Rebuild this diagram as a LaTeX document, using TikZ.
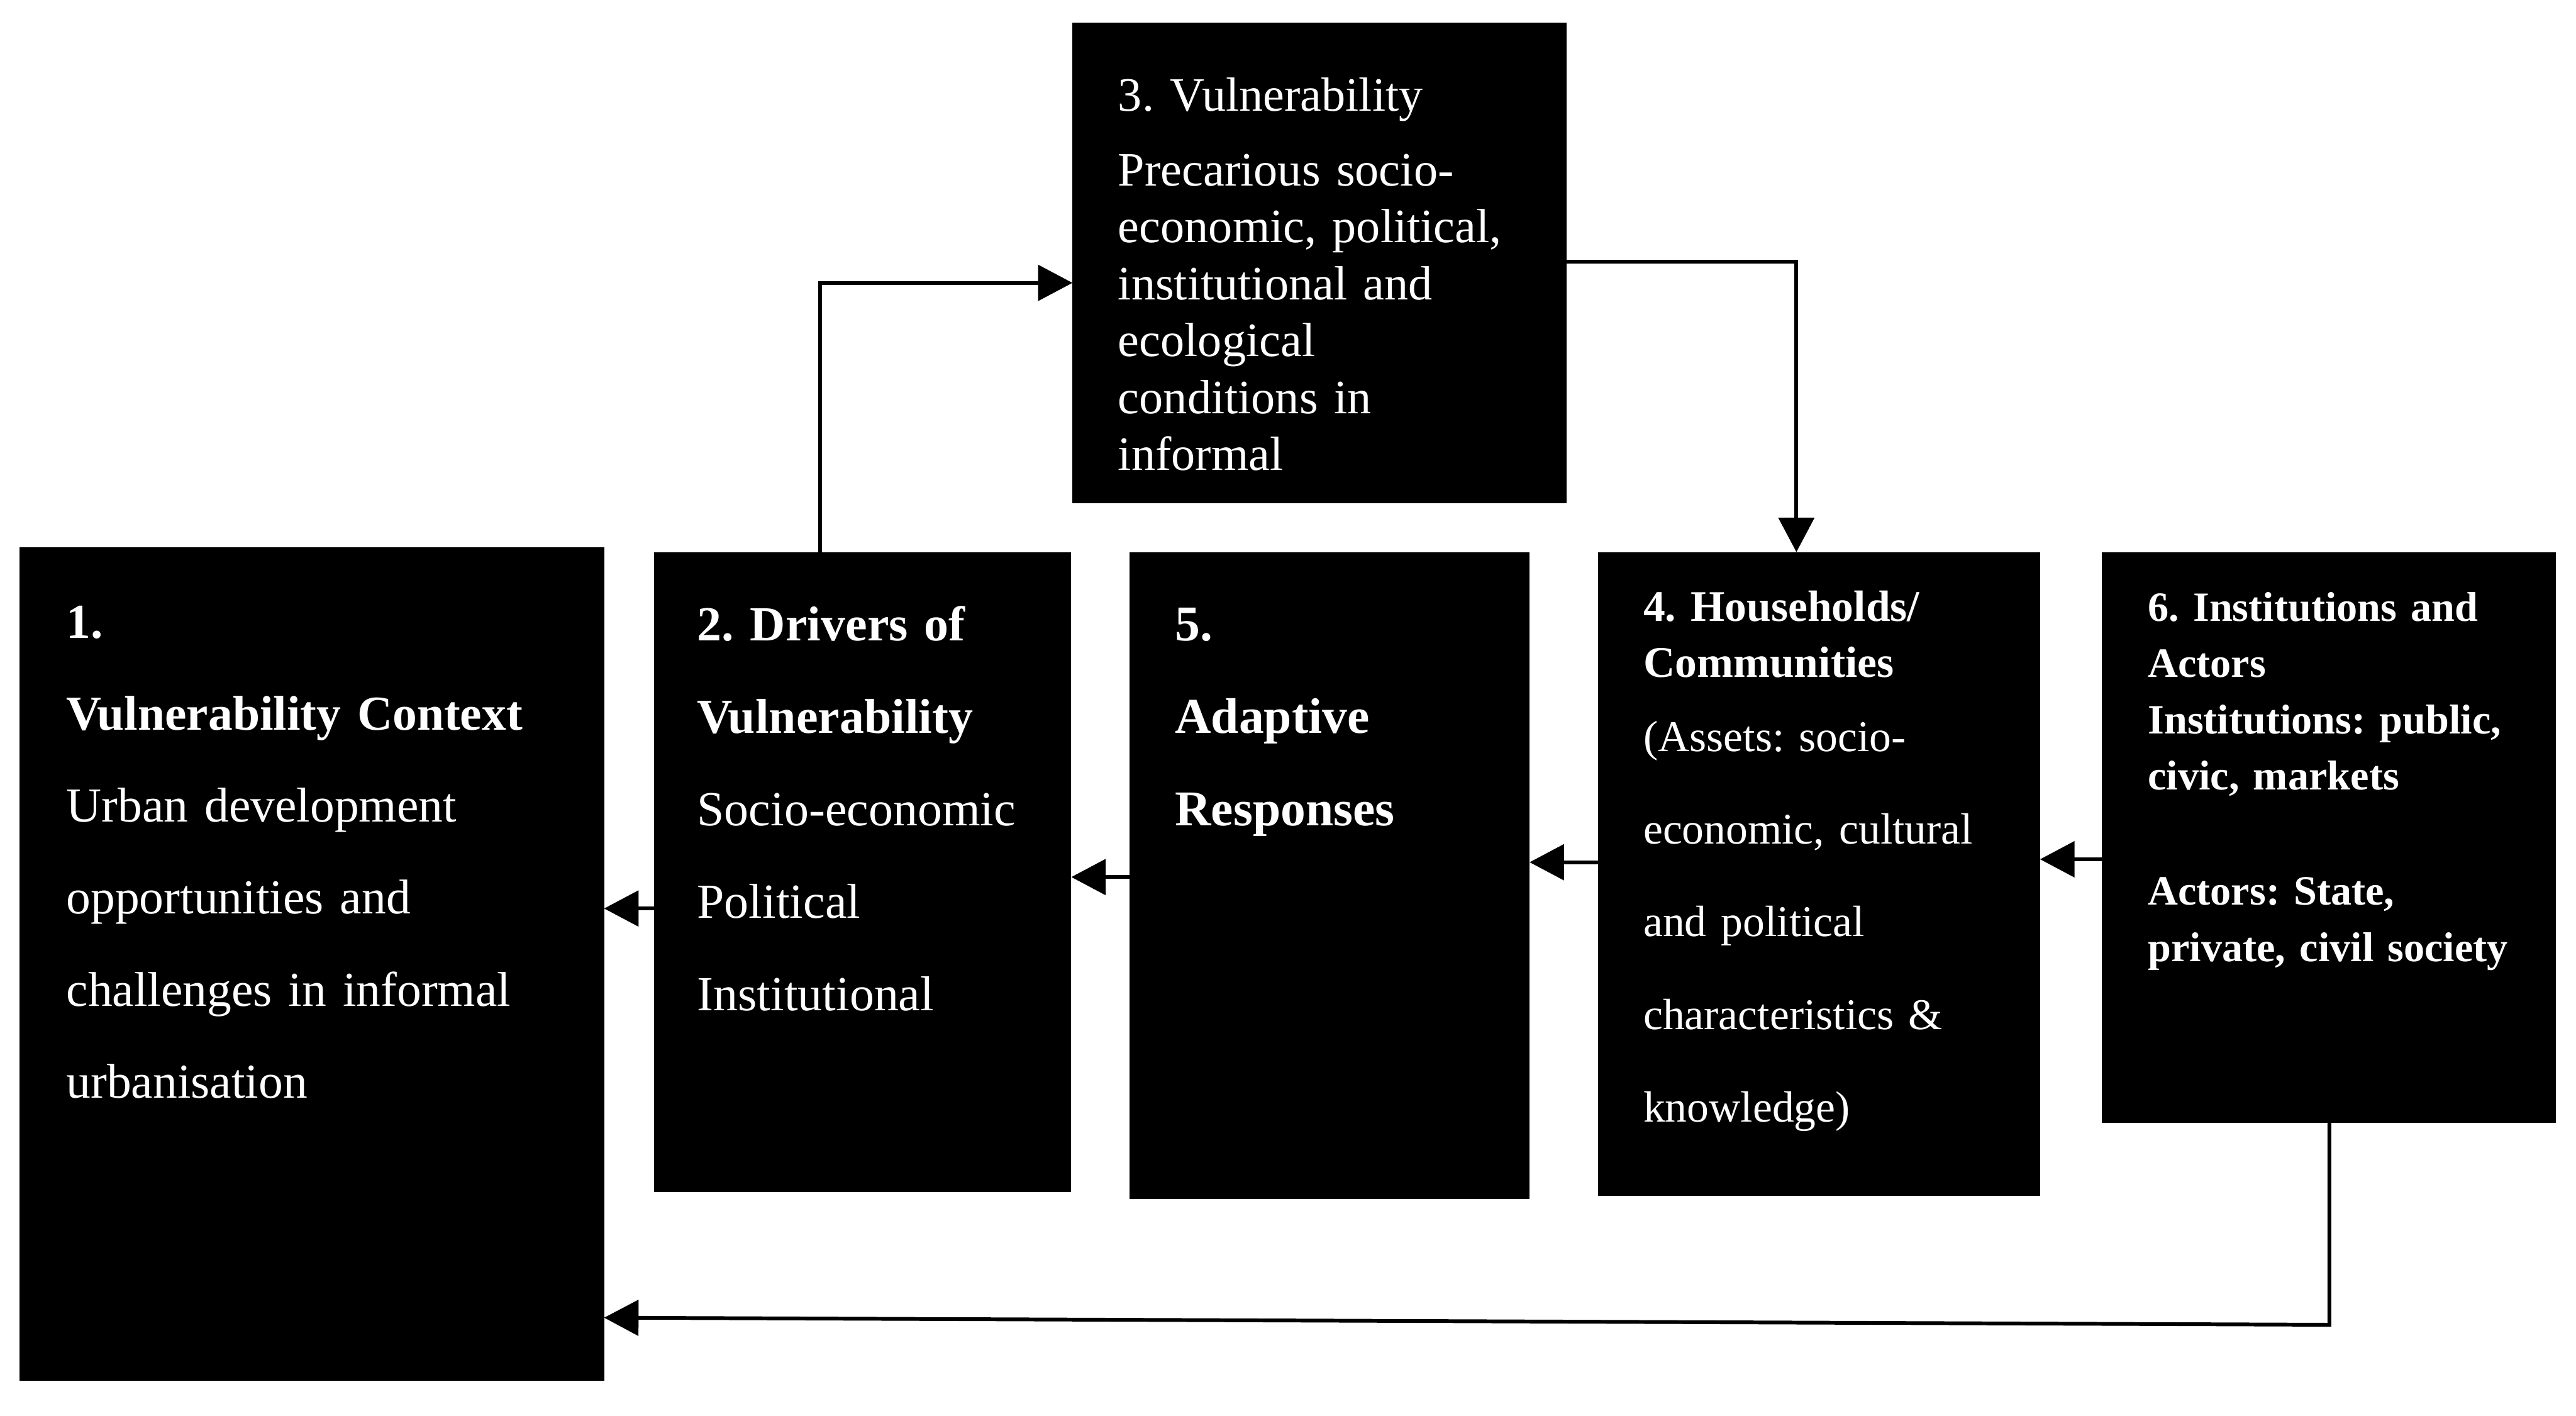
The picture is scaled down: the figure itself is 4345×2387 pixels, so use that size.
\documentclass[tikz,border=0pt]{standalone}
\usepackage{fontspec}
\setmainfont{Liberation Serif}
\usetikzlibrary{arrows.meta,fit}
\frenchspacing
\begin{document}
\begin{tikzpicture}[x=0.01cm,y=-0.01cm,
  box/.style={fill=black,draw=none,inner sep=0pt,outer sep=0pt},
  txt/.style={text=white,anchor=base west,inner sep=0pt,outer sep=0pt,text width=9cm,align=left},
  arr/.style={line width=1.8pt,-{Triangle[length=16.5pt,width=17pt]}},
]
\useasboundingbox (0,0) rectangle (4345,2387);
\fill[white] (0,0) rectangle (4345,2387);

% boxes
\node[box,fit={(33,923) (1019,2328)}] (b1) {};
\node[box,fit={(1103,931) (1807,2010)}] (b2) {};
\node[box,fit={(1809,38) (2642,849)}] (b3) {};
\node[box,fit={(1905,931) (2580,2022)}] (b5) {};
\node[box,fit={(2695,931) (3441,2016)}] (b4) {};
\node[box,fit={(3545,931) (4311,1893)}] (b6) {};

% texts
\node[txt,font=\fontsize{23.4pt}{44.1pt}\selectfont] (t1) at (112,1076)
  {\textbf{1.}\\ \textbf{Vulnerability Context}\\ Urban development\\ opportunities and\\ challenges in informal\\ urbanisation};
\node[txt,font=\fontsize{23.5pt}{44.4pt}\selectfont] (t2) at (1176,1080)
  {\textbf{2. Drivers of}\\ \textbf{Vulnerability}\\ Socio-economic\\ Political\\ Institutional};
\node[txt,font=\fontsize{24pt}{44.4pt}\selectfont\bfseries] (t5) at (1982,1080)
  {5.\\ Adaptive\\ Responses};
\node[txt,font=\fontsize{23pt}{27.3pt}\selectfont] (t3) at (1886,187)
  {3. Vulnerability\\[8.6pt] Precarious socio-\\ economic, political,\\ institutional and\\ ecological\\ conditions in\\ informal};
\node[txt,font=\fontsize{21pt}{27pt}\selectfont] (t4) at (2772,1047)
  {\textbf{4. Households/}\\ \textbf{Communities}\\[8.6pt] (Assets: socio-\\[17.4pt] economic, cultural\\[17.4pt] and political\\[17.4pt] characteristics \&\\[17.4pt] knowledge)};
\node[txt,font=\fontsize{20pt}{27pt}\selectfont\bfseries] (t6) at (3623,1047)
  {6. Institutions and\\ Actors\\ Institutions: public,\\ civic, markets\\[28.2pt] Actors: State,\\ private, civil society};

% connectors
\coordinate (c23) at (1383,477);
\draw[arr] (b2.north -| c23) -- (c23) -- (b3.west |- c23);
\coordinate (c34) at (3030,441);
\draw[arr] (b3.east |- c34) -- (c34) -- (b4.north -| c34);
\coordinate (y64) at (0,1449);
\draw[arr] (b6.west |- y64) -- (b4.east |- y64);
\coordinate (y45) at (0,1454);
\draw[arr] (b4.west |- y45) -- (b5.east |- y45);
\coordinate (y52) at (0,1479);
\draw[arr] (b5.west |- y52) -- (b2.east |- y52);
\coordinate (y21) at (0,1532);
\draw[arr] (b2.west |- y21) -- (b1.east |- y21);
\coordinate (c61a) at (3929,2234);
\coordinate (c61b) at (0,2222);
\draw[arr] (b6.south -| c61a) -- (c61a) -- (b1.east |- c61b);
\end{tikzpicture}
\end{document}
